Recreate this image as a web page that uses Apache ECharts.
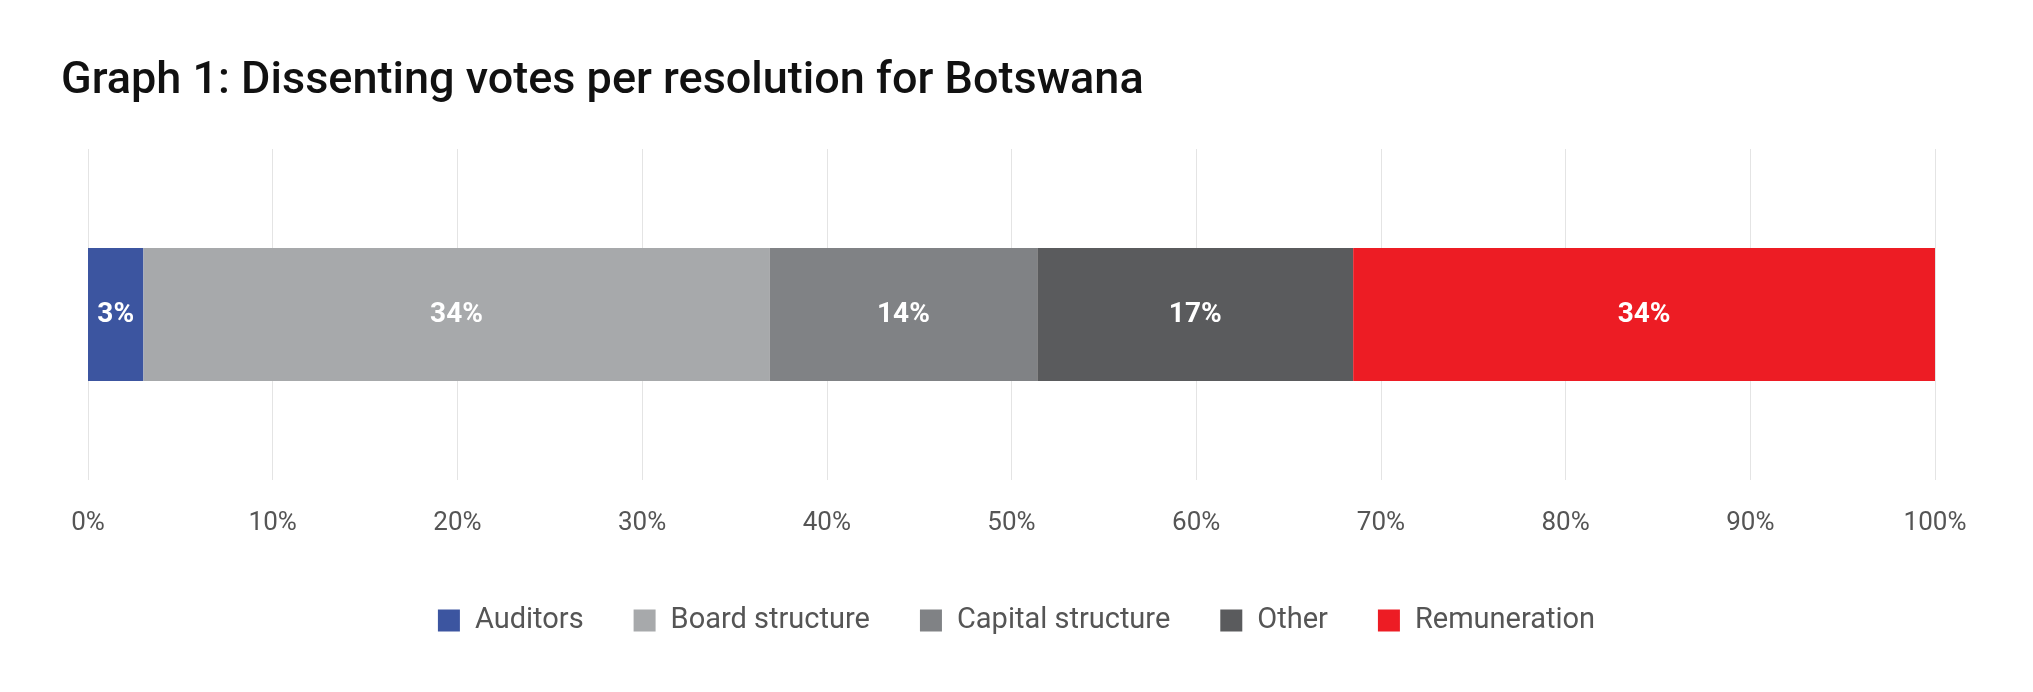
<!DOCTYPE html>
<html>
<head>
<meta charset="utf-8">
<script src="https://cdn.jsdelivr.net/npm/echarts@6/dist/echarts.min.js"></script>
<style>
  html, body { margin: 0; padding: 0; background: #fff; }
  #chart { width: 2033px; height: 692px; }
</style>
</head>
<body>
<div id="chart"></div>
<script>
// values, labels as printed in the picture
var categories = ['Botswana'];
var seriesNames = ['Auditors', 'Board structure', 'Capital structure', 'Other', 'Remuneration'];
var seriesValues = [3.0, 33.9, 14.5, 17.1, 31.5];
var seriesLabels = ['3%', '34%', '14%', '17%', '34%'];
var colors = ['#3c55a0', '#a7a9ab', '#808285', '#5a5b5d', '#ed1c24'];

var series = seriesNames.map(function (name, i) {
  return {
    name: name,
    type: 'bar',
    stack: 'total',
    barWidth: 133,
    data: [seriesValues[i]],
    itemStyle: { color: colors[i] },
    label: {
      show: true,
      color: '#fff',
      fontWeight: 'bold',
      fontSize: 28,
      fontFamily: 'Roboto',
      formatter: function () { return seriesLabels[i]; }
    }
  };
});

var chart = echarts.init(document.getElementById('chart'));
chart.setOption({
  animation: false,
  color: colors,
  title: {
    text: 'Graph 1: Dissenting votes per resolution for Botswana',
    left: 56,
    top: 54,
    textStyle: { fontFamily: 'Roboto', fontSize: 45, fontWeight: 500, color: '#111' }
  },
  legend: {
    bottom: 52,
    left: 'center',
    itemWidth: 22,
    itemHeight: 22,
    itemGap: 50,
    icon: 'rect',
    textStyle: { fontFamily: 'Roboto', fontSize: 29, color: '#555', padding: [0, 0, 0, 10] },
    data: seriesNames
  },
  grid: { left: 88, right: 98, top: 149, height: 331 },
  xAxis: {
    type: 'value',
    min: 0,
    max: 100,
    interval: 10,
    axisLabel: { formatter: '{value}%', fontFamily: 'Roboto', fontSize: 26, color: '#555', margin: 30 },
    axisLine: { show: false },
    axisTick: { show: false },
    splitLine: { lineStyle: { color: '#e4e4e4' } }
  },
  yAxis: {
    type: 'category',
    data: categories,
    show: false
  },
  series: series
});
</script>
</body>
</html>
